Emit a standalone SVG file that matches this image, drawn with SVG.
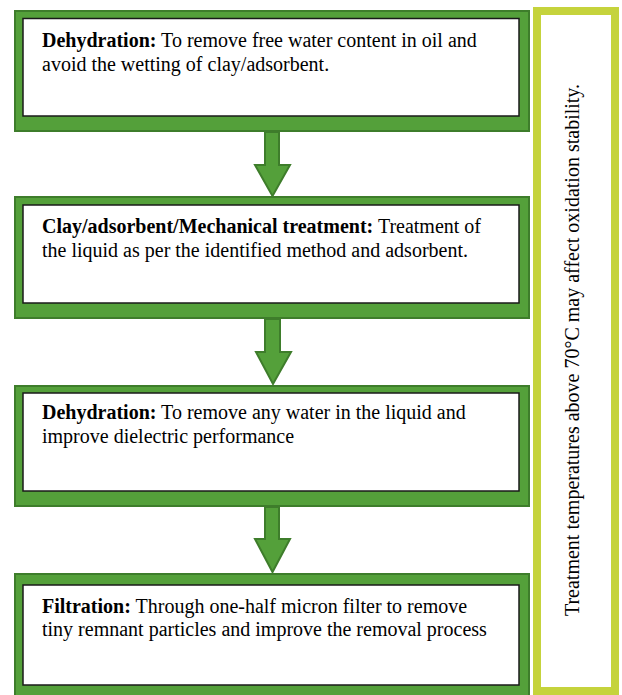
<svg xmlns="http://www.w3.org/2000/svg" width="622" height="695" viewBox="0 0 622 695">
<style>
.outer{fill:#54a03a;stroke:#3e7d2b;stroke-width:2}
.inner{fill:#ffffff;stroke:#1a1a1a;stroke-width:1.5}
.arrow{fill:#54a03a;stroke:#3e7d2b;stroke-width:2;stroke-linejoin:miter}
text{font-family:"Liberation Serif","Times New Roman",serif;font-size:20px;fill:#000}
.b{font-weight:bold}
</style>
<rect width="622" height="695" fill="#ffffff"/>
<g id="connectors">
<polygon class="arrow" points="265,132 279,132 279,165 290,165 272.5,196 255,165 265,165"/>
<polygon class="arrow" points="265,319 280,319 280,352 291,352 273,384 256,352 265,352"/>
<polygon class="arrow" points="265,507 279,507 279,539 290,539 272.5,572 255,539 265,539"/>
</g>
<g id="node1">
<rect class="outer" x="15" y="11" width="514" height="120"/>
<rect class="inner" x="23" y="18.5" width="496" height="97.5"/>
<text x="42" y="47"><tspan class="b">Dehydration:</tspan> To remove free water content in oil and</text>
<text x="42" y="71">avoid the wetting of clay/adsorbent.</text>
</g>
<g id="node2">
<rect class="outer" x="15" y="197" width="514" height="121"/>
<rect class="inner" x="23" y="205" width="496" height="98"/>
<text x="42" y="233"><tspan class="b">Clay/adsorbent/Mechanical treatment:</tspan> Treatment of</text>
<text x="42" y="257">the liquid as per the identified method and adsorbent.</text>
</g>
<g id="node3">
<rect class="outer" x="15" y="386" width="514" height="120"/>
<rect class="inner" x="23" y="393" width="496" height="98"/>
<text x="42" y="419"><tspan class="b">Dehydration:</tspan> To remove any water in the liquid and</text>
<text x="42" y="443">improve dielectric performance</text>
</g>
<g id="node4">
<rect class="outer" x="15" y="574" width="514" height="130"/>
<rect class="inner" x="23" y="585" width="496" height="100"/>
<text x="42" y="613"><tspan class="b">Filtration:</tspan> Through one-half micron filter to remove</text>
<text x="42" y="636">tiny remnant particles and improve the removal process</text>
</g>
<g id="note">
<rect x="537" y="11" width="78" height="680" fill="#ffffff" stroke="#c5d33c" stroke-width="8"/>
<text transform="translate(579,350) rotate(-90)" text-anchor="middle">Treatment temperatures above 70°C may affect oxidation stability.</text>
</g>
</svg>
